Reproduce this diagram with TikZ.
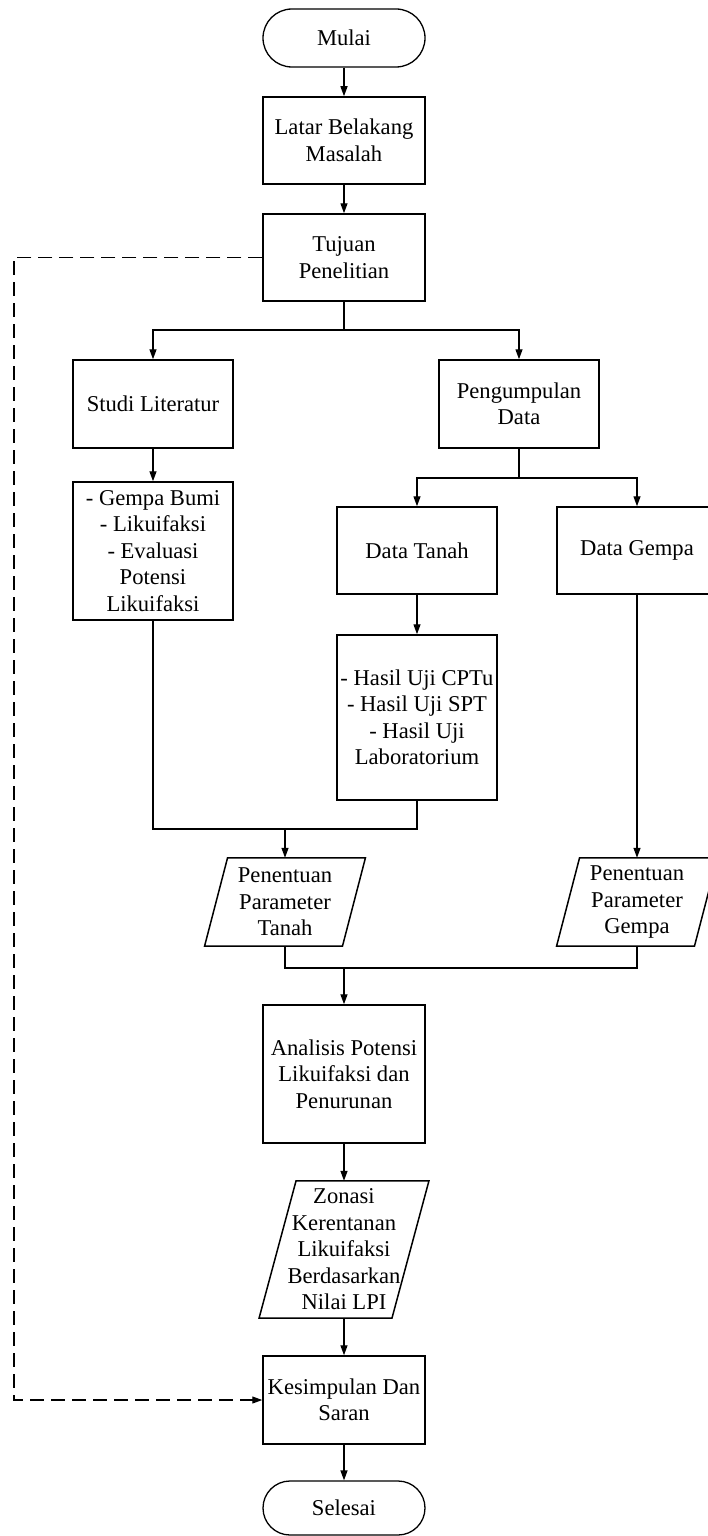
\documentclass[tikz,border=0pt]{standalone}
\usepackage{fontspec}
\setmainfont{Liberation Serif}
\usetikzlibrary{arrows.meta}
\begin{document}
\begin{tikzpicture}[x=1pt,y=-1pt,
  txt/.style={align=center, inner sep=0pt, font=\fontsize{22.6}{26.5}\selectfont},
  box/.style={txt, draw, line width=1.5pt, minimum width=162pt, minimum height=87pt},
  sbox/.style={box, minimum width=160pt},
  term/.style={txt, draw, line width=1.3pt, minimum width=162pt, rounded corners=27pt},
  para/.style={txt, minimum width=137.5pt, minimum height=88pt},
  pline/.style={draw, line width=1.5pt},
  conn/.style={line width=1.3pt},
  arr/.style={conn, -{Triangle[length=10pt,width=7pt]}},
  dashline/.style={line width=1.1pt, dash pattern=on 14pt off 7pt, -{Triangle[length=10pt,width=7pt]}}
]
\useasboundingbox (0,0) rectangle (708,1536);
\fill[white] (0,0) rectangle (708,1536);

\node[term, minimum height=58pt, rounded corners=29pt] (mulai) at (344,38) {Mulai};
\node[box] (lat) at (344,140.5) {Latar Belakang\\Masalah};
\node[box] (tuj) at (344,257.5) {Tujuan\\Penelitian};
\node[sbox, minimum height=88pt] (studi) at (153,404) {Studi Literatur};
\node[sbox, minimum height=88pt] (peng) at (519,404) {Pengumpulan\\Data};
\node[sbox, minimum height=138pt] (gem) at (153,551) {- Gempa Bumi\\- Likuifaksi\\- Evaluasi\\Potensi\\Likuifaksi};
\node[sbox] (dtan) at (417,550.5) {Data Tanah};
\node[sbox] (dgem) at (637,550.5) {Data Gempa};
\node[sbox, minimum height=165pt] (hasil) at (417,717.5) {- Hasil Uji CPTu\\- Hasil Uji SPT\\- Hasil Uji\\Laboratorium};
\node[para] (ptan) at (285,902) {Penentuan\\Parameter\\Tanah};
\node[para] (pgem) at (637,902) {Penentuan\\Parameter\\Gempa};
\node[box, minimum height=138pt] (anal) at (344,1074) {Analisis Potensi\\Likuifaksi dan\\Penurunan};
\node[para, minimum width=132.5pt, minimum height=137pt] (zon) at (344,1249.5) {Zonasi\\Kerentanan\\Likuifaksi\\Berdasarkan\\Nilai LPI};
\node[box, minimum height=88pt] (kes) at (344,1400) {Kesimpulan Dan\\Saran};
\node[term, minimum height=54pt] (sel) at (344,1508) {Selesai};

% parallelogram outlines
\draw[pline] ([xshift=11.5pt]ptan.north west) -- ([xshift=11.5pt]ptan.north east) -- ([xshift=-11.5pt]ptan.south east) -- ([xshift=-11.5pt]ptan.south west) -- cycle;
\draw[pline] ([xshift=11.5pt]pgem.north west) -- ([xshift=11.5pt]pgem.north east) -- ([xshift=-11.5pt]pgem.south east) -- ([xshift=-11.5pt]pgem.south west) -- cycle;
\draw[pline] ([xshift=18.5pt]zon.north west) -- ([xshift=18.5pt]zon.north east) -- ([xshift=-18.5pt]zon.south east) -- ([xshift=-18.5pt]zon.south west) -- cycle;

% connectors
\draw[arr] (mulai) -- (lat);
\draw[arr] (lat) -- (tuj);
\coordinate (b1) at (344,330);
\draw[conn] (tuj.south) -- (b1);
\draw[arr] (b1) -| (studi.north);
\draw[arr] (b1) -| (peng.north);
\draw[arr] (studi) -- (gem);
\coordinate (b2) at (519,478);
\draw[conn] (peng.south) -- (b2);
\draw[arr] (b2) -| (dtan.north);
\draw[arr] (b2) -| (dgem.north);
\draw[arr] (dtan) -- (hasil);
\coordinate (m1) at (285,829);
\draw[conn] (gem.south) |- (m1);
\draw[conn] (hasil.south) |- (m1);
\draw[arr] (m1) -- (ptan.north);
\draw[arr] (dgem.south) -- (pgem.north);
\coordinate (m2) at (344,968);
\draw[conn] (ptan.south) |- (m2);
\draw[conn] (pgem.south) |- (m2);
\draw[arr] (m2) -- (anal.north);
\draw[arr] (anal) -- (zon);
\draw[arr] (zon) -- (kes);
\draw[arr] (kes) -- (sel);
\coordinate (d1) at (14,257.5);
\coordinate (d2) at (14,1400);
\draw[dashline] (tuj.west) -- (d1) -- (d2) -- (kes.west);
\end{tikzpicture}
\end{document}
